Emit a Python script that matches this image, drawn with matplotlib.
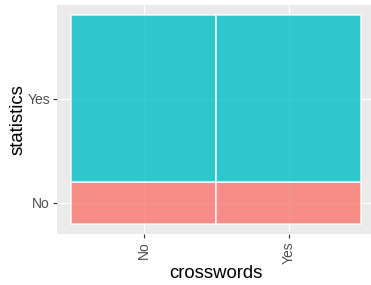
import matplotlib
matplotlib.use('Agg')
import matplotlib.pyplot as plt

# ---------- Data ----------
crosswords = ['No', 'Yes']
statistics = ['No', 'Yes']
col_share = [0.5, 0.5]          # share of each crosswords level
stat_share_no = [0.2, 0.2]      # share of statistics == No within each column
stat_share_yes = [0.8, 0.8]

fill_colors = {'No': '#F8766D', 'Yes': '#00BFC4'}

plt.rcParams['font.family'] = ['Liberation Sans', 'DejaVu Sans']

fig = plt.figure(figsize=(3.71, 2.85), dpi=100)
ax = fig.add_axes([57 / 371, 1 - 234 / 285, 318.5 / 371, 229 / 285])
ax.set_facecolor('#EBEBEB')

# ---------- Mosaic tiles ----------
x0 = 0.0
xticks = []
for i, name in enumerate(crosswords):
    w = col_share[i]
    ax.bar(x0, stat_share_no[i], width=w, bottom=0, align='edge',
           color=fill_colors['No'], alpha=0.8, edgecolor='white', linewidth=1.2, zorder=3)
    ax.bar(x0, stat_share_yes[i], width=w, bottom=stat_share_no[i], align='edge',
           color=fill_colors['Yes'], alpha=0.8, edgecolor='white', linewidth=1.2, zorder=3)
    xticks.append(x0 + w / 2)
    x0 += w

yticks = [stat_share_no[0] / 2, stat_share_no[0] + stat_share_yes[0] / 2]

ax.set_xlim(-0.05, 1.05)
ax.set_ylim(-0.05, 1.05)
ax.set_xticks(xticks)
ax.set_xticklabels(crosswords, rotation=90)
ax.set_yticks(yticks)
ax.set_yticklabels(statistics)
ax.grid(True, color='white', linewidth=1.0, zorder=0)
ax.set_axisbelow(True)
for s in ax.spines.values():
    s.set_visible(False)
ax.tick_params(colors='#333333', labelcolor='#4D4D4D', labelsize=10, length=3, width=0.8, pad=2)
ax.set_xlabel('crosswords', fontsize=13.3, labelpad=1)
ax.set_ylabel('statistics', fontsize=13.3, labelpad=1)

plt.savefig('out.png', dpi=100)
